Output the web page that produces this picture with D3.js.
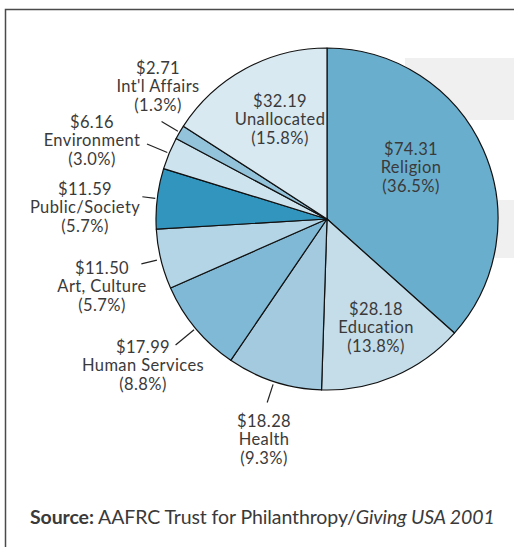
<!DOCTYPE html>
<html>
<head>
<meta charset="utf-8">
<script src="https://cdn.jsdelivr.net/npm/d3@7"></script>
<style>
  body { margin: 0; background: #fff; }
  svg { display: block; }
  text { font-family: Lato, "Open Sans", sans-serif; fill: #3a3a3a; }
</style>
</head>
<body>
<div id="chart"></div>
<script>
// giving by type of recipient, billions of dollars
categories = ['Religion', 'Education', 'Health', 'Human Services', 'Art, Culture',
              'Public/Society', 'Environment', "Int'l Affairs", 'Unallocated'];
amounts = [74.31, 28.18, 18.28, 17.99, 11.50, 11.59, 6.16, 2.71, 32.19];
percents = ['36.5%', '13.8%', '9.3%', '8.8%', '5.7%', '5.7%', '3.0%', '1.3%', '15.8%'];

colors = ['#6aaecd', '#c4dde9', '#a3cade', '#80b9d5', '#b3d5e6',
          '#3295bd', '#cde3ee', '#93c3db', '#d8e9f2'];

// label block placement (middle line baseline) relative to the pie centre
labelAt = [[84, -46], [49, 114], [-63, 226], [-184, 152], [-225, 73],
           [-242, -6], [-235, -73], [-169, -127], [-47, -94]];
// leader line: [inner, outer] distance from the rim, null = no leader
leaders = [null, null, [3, 22], [2, 26], [4, 20], [2, 15], [2, 24], [2, 21], null];

const W = 514, H = 547;
const cx = 327, cy = 219, r = 171;

const svg = d3.select('#chart').append('svg')
    .attr('width', W).attr('height', H);

// grey bands behind the pie
svg.append('rect').attr('x', 405).attr('y', 58).attr('width', 109).attr('height', 62).attr('fill', '#f0f0f0');
svg.append('rect').attr('x', 405).attr('y', 200).attr('width', 109).attr('height', 58).attr('fill', '#f0f0f0');

// frame
svg.append('path')
    .attr('d', `M5.5,${H} V9.5 H${W}`)
    .attr('fill', 'none')
    .attr('stroke', '#4a4a4a')
    .attr('stroke-width', 1.5);

const pie = d3.pie().sort(null).value(d => d)(amounts);
const arc = d3.arc().innerRadius(0).outerRadius(r);

const g = svg.append('g').attr('transform', `translate(${cx},${cy})`);

g.selectAll('path.slice')
    .data(pie)
    .join('path')
    .attr('class', 'slice')
    .attr('d', arc)
    .attr('fill', (d, i) => colors[i])
    .attr('stroke', '#111')
    .attr('stroke-width', 1.2)
    .attr('stroke-linejoin', 'round');

const mid = d => (d.startAngle + d.endAngle) / 2;

g.selectAll('line.leader')
    .data(pie.filter((d, i) => leaders[i]))
    .join('line')
    .attr('class', 'leader')
    .attr('x1', d => Math.sin(mid(d)) * (r + leaders[d.index][0]))
    .attr('y1', d => -Math.cos(mid(d)) * (r + leaders[d.index][0]))
    .attr('x2', d => Math.sin(mid(d)) * (r + leaders[d.index][1]))
    .attr('y2', d => -Math.cos(mid(d)) * (r + leaders[d.index][1]))
    .attr('stroke', '#222')
    .attr('stroke-width', 1.2);

const labels = g.selectAll('text.lab')
    .data(pie)
    .join('text')
    .attr('class', 'lab')
    .attr('text-anchor', 'middle')
    .attr('font-size', 16.5)
    .attr('letter-spacing', 0.4)
    .attr('transform', (d, i) => `translate(${labelAt[i][0]},${labelAt[i][1]})`);

labels.each(function(d, i) {
  const t = d3.select(this);
  const lines = ['$' + amounts[i].toFixed(2), categories[i], '(' + percents[i] + ')'];
  lines.forEach((s, k) => {
    t.append('tspan').attr('x', 0).attr('y', (k - 1) * 18.5).text(s);
  });
});

// source line
const src = svg.append('text')
    .attr('x', 30).attr('y', 524)
    .attr('font-size', 19.5)
    .attr('letter-spacing', -0.1);
src.append('tspan').attr('font-weight', 'bold').text('Source:');
src.append('tspan').text(' AAFRC Trust for Philanthropy/');
src.append('tspan').attr('font-style', 'italic').text('Giving USA 2001');
</script>
</body>
</html>
